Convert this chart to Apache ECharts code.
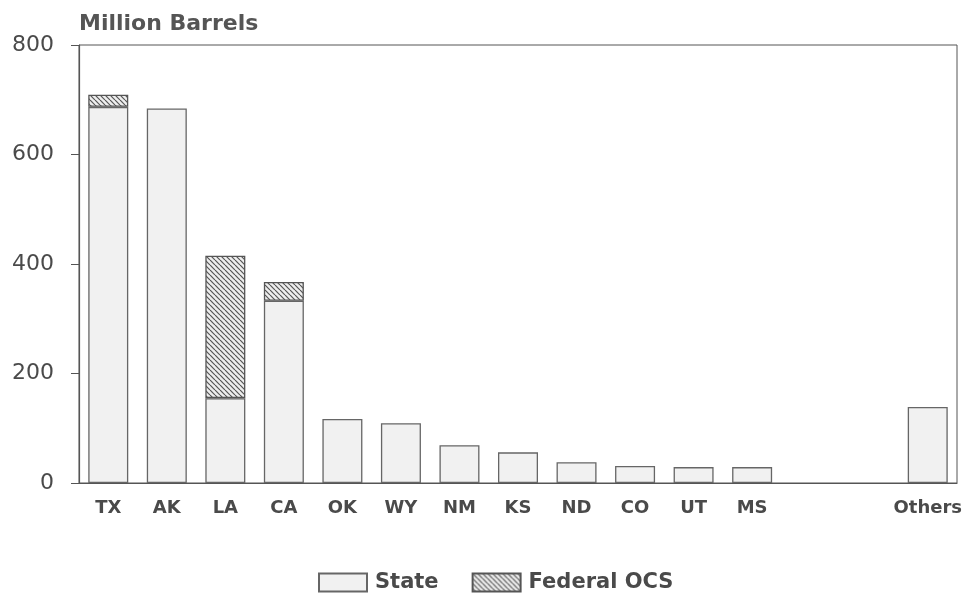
<!DOCTYPE html>
<html>
<head>
<meta charset="utf-8">
<script src="https://cdn.jsdelivr.net/npm/echarts@6/dist/echarts.min.js"></script>
<style>
  html, body { margin: 0; padding: 0; background: #fff; }
  #main { width: 966px; height: 598px; }
</style>
</head>
<body>
<div id="main"></div>
<script>
// states, two empty slots, then Others
var categories = ['TX', 'AK', 'LA', 'CA', 'OK', 'WY', 'NM', 'KS', 'ND', 'CO', 'UT', 'MS', '', '', 'Others'];
var stateValues = [687, 684, 155, 333, 117, 109, 69, 56, 38, 31, 29, 29, '-', '-', 139];
var federalValues = [22, '-', 260, 34, '-', '-', '-', '-', '-', '-', '-', '-', '-', '-', '-'];
var yTicks = [0, 200, 400, 600, 800];

var ink = '#4a4a4a';
var font = 'DejaVu Sans';

// diagonal hatch for Federal OCS
function hatch() {
  var c = document.createElement('canvas');
  c.width = 5;
  c.height = 5;
  var ctx = c.getContext('2d');
  ctx.fillStyle = '#eeeeee';
  ctx.fillRect(0, 0, 5, 5);
  ctx.strokeStyle = '#555555';
  ctx.lineWidth = 1.2;
  for (var k = -5; k <= 5; k += 5) {
    ctx.beginPath();
    ctx.moveTo(k, 0);
    ctx.lineTo(k + 5, 5);
    ctx.stroke();
  }
  return c;
}

var chart = echarts.init(document.getElementById('main'), null, { renderer: 'canvas' });

var option = {
  backgroundColor: '#fff',
  animation: false,
  title: {
    text: 'Million Barrels',
    left: 74,
    top: 8,
    textStyle: { fontFamily: font, fontSize: 22, fontWeight: 'bold', color: '#555' }
  },
  legend: {
    left: 313,
    top: 567,
    icon: 'rect',
    itemWidth: 48,
    itemHeight: 18,
    itemGap: 33,
    textStyle: { fontFamily: font, fontSize: 21, fontWeight: 'bold', color: ink, padding: [0, 0, 0, 3] },
    data: ['State', 'Federal OCS']
  },
  grid: {
    left: 79,
    right: 9,
    top: 45,
    bottom: 115,
    show: true,
    borderColor: '#555',
    borderWidth: 1,
    containLabel: false,
    outerBoundsMode: 'none'
  },
  xAxis: {
    type: 'category',
    data: categories,
    axisLine: { show: true, lineStyle: { color: '#555', width: 1.2 } },
    axisTick: { show: false },
    axisLabel: {
      interval: 0,
      margin: 16,
      fontFamily: font,
      fontSize: 18,
      fontWeight: 'bold',
      color: ink
    }
  },
  yAxis: {
    type: 'value',
    min: yTicks[0],
    max: yTicks[yTicks.length - 1],
    interval: 200,
    splitLine: { show: false },
    axisLine: { show: true, lineStyle: { color: '#555', width: 1.2 } },
    axisTick: { show: true, inside: false, length: 8, lineStyle: { color: '#555' } },
    axisLabel: {
      margin: 25,
      fontFamily: font,
      fontSize: 22,
      color: ink
    }
  },
  series: [
    {
      name: 'State',
      type: 'bar',
      stack: 'total',
      data: stateValues,
      barWidth: 40,
      itemStyle: { color: '#f1f1f1', borderColor: '#666', borderWidth: 1.3 }
    },
    {
      name: 'Federal OCS',
      type: 'bar',
      stack: 'total',
      data: federalValues,
      barWidth: 40,
      itemStyle: {
        color: { image: hatch(), repeat: 'repeat' },
        borderColor: '#555',
        borderWidth: 1.3
      }
    }
  ]
};

chart.setOption(option);
</script>
</body>
</html>
